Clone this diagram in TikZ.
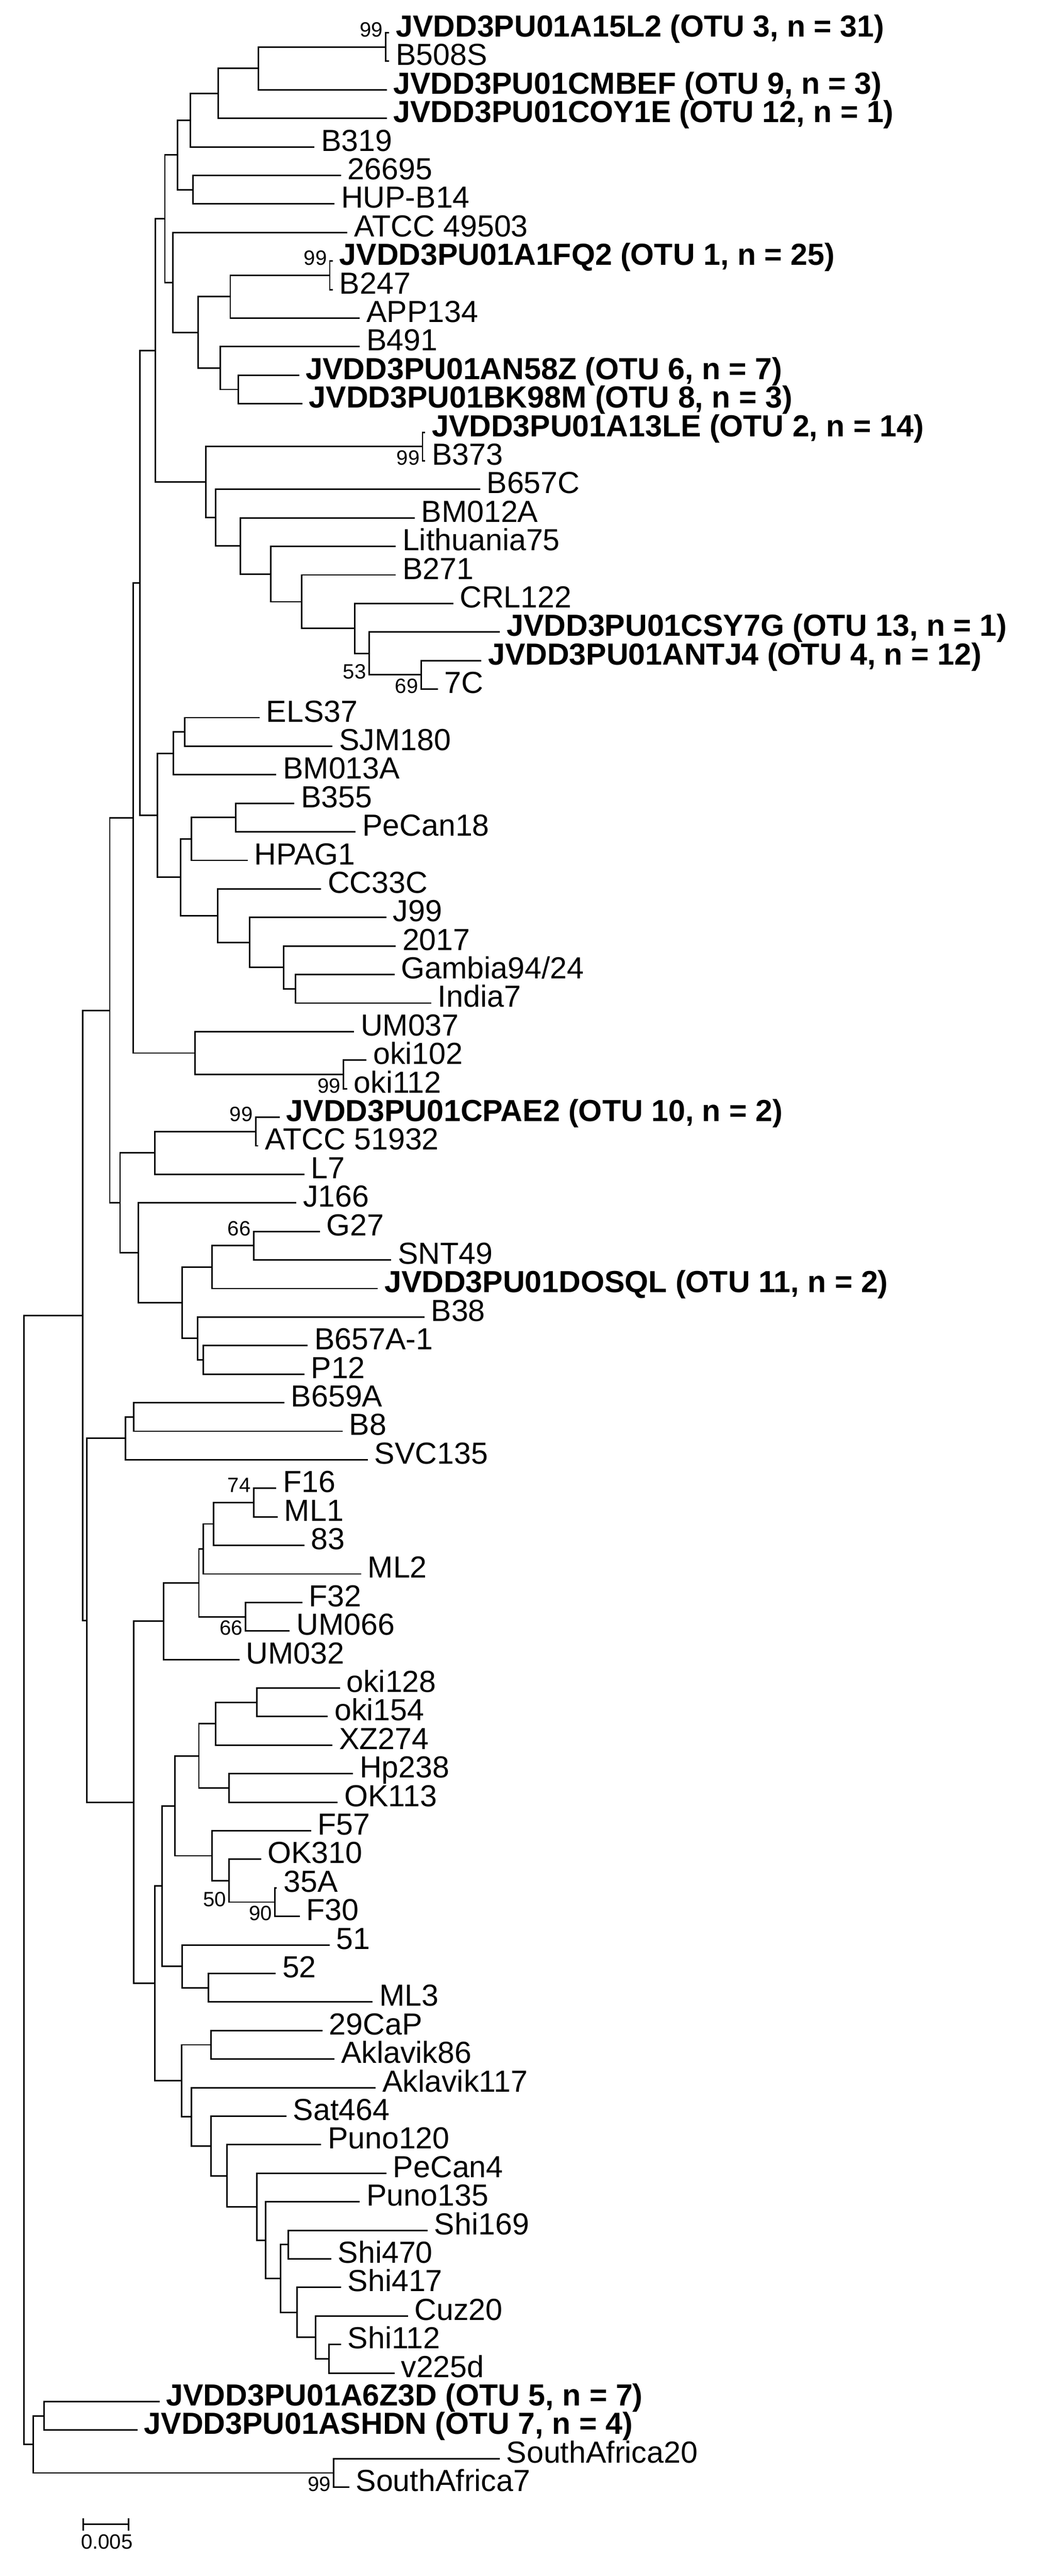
\documentclass[tikz,border=0pt]{standalone}
\usepackage{fontspec}
\setmainfont{Liberation Sans}
\usetikzlibrary{calc}
\tikzset{
  br/.style={line width=1.3pt,line join=miter,line cap=rect},
  lab/.style={inner xsep=0.22cm,inner ysep=0pt,text height=0.716em,text depth=0pt,font=\fontsize{26.5}{30}\selectfont},
  blab/.style={lab,font=\fontsize{26.5}{30}\selectfont\bfseries},
  bsv/.style={inner xsep=0.08cm,inner ysep=0pt,text height=0.716em,text depth=0pt,font=\fontsize{18}{20}\selectfont}
}
\newcommand{\lf}[4]{\coordinate (#1) at ({#2},{20+(#3-1)*17.45});\node[lab,anchor=west] (t#1) at (#1) {#4};}
\newcommand{\blf}[4]{\coordinate (#1) at ({#2},{20+(#3-1)*17.45});\node[blab,anchor=west] (t#1) at (#1) {#4};}
\newcommand{\nd}[4]{\path let \p1=($(#3)!.5!(#4)$) in coordinate (#1) at (#2*0.05cm,\y1);
  \draw[br] (#3) -- (#1 |- #3) -- (#1 |- #4) -- (#4);}
\newcommand{\bsl}[3]{\node[bsv,anchor=east] at (#1 |- #2) {#3};}
\begin{document}
\begin{tikzpicture}[x=0.05cm,y=-0.05cm]
\useasboundingbox (0,0) rectangle (640,1575);
\blf{a1}{237.5}{1}{JVDD3PU01A15L2 (OTU 3, n = 31)}
\lf{a2}{237.5}{2}{B508S}
\blf{a3}{236}{3}{JVDD3PU01CMBEF (OTU 9, n = 3)}
\blf{a4}{236}{4}{JVDD3PU01COY1E (OTU 12, n = 1)}
\lf{a5}{191.8}{5}{B319}
\lf{a6}{208}{6}{26695}
\lf{a7}{204}{7}{HUP-B14}
\lf{a8}{212}{8}{ATCC 49503}
\blf{a9}{203}{9}{JVDD3PU01A1FQ2 (OTU 1, n = 25)}
\lf{a10}{203}{10}{B247}
\lf{a11}{219.5}{11}{APP134}
\lf{a12}{219.5}{12}{B491}
\blf{a13}{182.4}{13}{JVDD3PU01AN58Z (OTU 6, n = 7)}
\blf{a14}{184.4}{14}{JVDD3PU01BK98M (OTU 8, n = 3)}
\blf{a15}{259.5}{15}{JVDD3PU01A13LE (OTU 2, n = 14)}
\lf{a16}{259.5}{16}{B373}
\lf{a17}{293}{17}{B657C}
\lf{a18}{253}{18}{BM012A}
\lf{a19}{241.5}{19}{Lithuania75}
\lf{a20}{241.5}{20}{B271}
\lf{a21}{276.6}{21}{CRL122}
\blf{a22}{305.2}{22}{JVDD3PU01CSY7G (OTU 13, n = 1)}
\blf{a23}{293.8}{23}{JVDD3PU01ANTJ4 (OTU 4, n = 12)}
\lf{a24}{267.2}{24}{7C}
\lf{a25}{158.3}{25}{ELS37}
\lf{a26}{202.8}{26}{SJM180}
\lf{a27}{168.5}{27}{BM013A}
\lf{a28}{179.5}{28}{B355}
\lf{a29}{217}{29}{PeCan18}
\lf{a30}{151}{30}{HPAG1}
\lf{a31}{195.8}{31}{CC33C}
\lf{a32}{235.8}{32}{J99}
\lf{a33}{241.5}{33}{2017}
\lf{a34}{240.7}{34}{Gambia94/24}
\lf{a35}{263.2}{35}{India7}
\lf{a36}{216}{36}{UM037}
\lf{a37}{223.6}{37}{oki102}
\lf{a38}{211.8}{38}{oki112}
\blf{a39}{170.5}{39}{JVDD3PU01CPAE2 (OTU 10, n = 2)}
\lf{a40}{157.5}{40}{ATCC 51932}
\lf{a41}{185.6}{41}{L7}
\lf{a42}{180.7}{42}{J166}
\lf{a43}{195}{43}{G27}
\lf{a44}{238.7}{44}{SNT49}
\blf{a45}{230.5}{45}{JVDD3PU01DOSQL (OTU 11, n = 2)}
\lf{a46}{259}{46}{B38}
\lf{a47}{187.7}{47}{B657A-1}
\lf{a48}{185.6}{48}{P12}
\lf{a49}{173.4}{49}{B659A}
\lf{a50}{208.9}{50}{B8}
\lf{a51}{224.4}{51}{SVC135}
\lf{a52}{168.5}{52}{F16}
\lf{a53}{169.3}{53}{ML1}
\lf{a54}{185.6}{54}{83}
\lf{a55}{220.3}{55}{ML2}
\lf{a56}{184.4}{56}{F32}
\lf{a57}{176.7}{57}{UM066}
\lf{a58}{146}{58}{UM032}
\lf{a59}{207.3}{59}{oki128}
\lf{a60}{200}{60}{oki154}
\lf{a61}{202.8}{61}{XZ274}
\lf{a62}{215.4}{62}{Hp238}
\lf{a63}{206}{63}{OK113}
\lf{a64}{189.7}{64}{F57}
\lf{a65}{159.1}{65}{OK310}
\lf{a66}{168.8}{66}{35A}
\lf{a67}{182.8}{67}{F30}
\lf{a68}{201.1}{68}{51}
\lf{a69}{168.1}{69}{52}
\lf{a70}{227.3}{70}{ML3}
\lf{a71}{196.7}{71}{29CaP}
\lf{a72}{204}{72}{Aklavik86}
\lf{a73}{229.3}{73}{Aklavik117}
\lf{a74}{174.6}{74}{Sat464}
\lf{a75}{195.8}{75}{Puno120}
\lf{a76}{235.8}{76}{PeCan4}
\lf{a77}{219.5}{77}{Puno135}
\lf{a78}{261}{78}{Shi169}
\lf{a79}{202}{79}{Shi470}
\lf{a80}{208}{80}{Shi417}
\lf{a81}{248.9}{81}{Cuz20}
\lf{a82}{208}{82}{Shi112}
\lf{a83}{240.7}{83}{v225d}
\blf{a84}{97.1}{84}{JVDD3PU01A6Z3D (OTU 5, n = 7)}
\blf{a85}{83.6}{85}{JVDD3PU01ASHDN (OTU 7, n = 4)}
\lf{a86}{305}{86}{SouthAfrica20}
\lf{a87}{213}{87}{SouthAfrica7}
% internal nodes
\nd{n1}{235.8}{a1}{a2}
\nd{n2}{158}{n1}{a3}
\nd{n3}{133.4}{n2}{a4}
\nd{n4}{116.3}{n3}{a5}
\nd{n5}{117.9}{a6}{a7}
\nd{n6}{108.5}{n4}{n5}
\nd{n7}{201.6}{a9}{a10}
\nd{n8}{140.8}{n7}{a11}
\nd{n9}{145.7}{a13}{a14}
\nd{n10}{134.6}{a12}{n9}
\nd{n11}{121.2}{n8}{n10}
\nd{n12}{105.7}{a8}{n11}
\nd{n13}{100.8}{n6}{n12}
\nd{n14}{258.3}{a15}{a16}
\nd{n15}{257.4}{a23}{a24}
\nd{n16}{225.6}{a22}{n15}
\nd{n17}{217}{a21}{n16}
\nd{n18}{184.4}{a20}{n17}
\nd{n19}{165.6}{a19}{n18}
\nd{n20}{146.9}{a18}{n19}
\nd{n21}{131.8}{a17}{n20}
\nd{n22}{125.7}{n14}{n21}
\nd{n23}{95}{n13}{n22}
\nd{n24}{112.8}{a25}{a26}
\nd{n25}{106.1}{n24}{a27}
\nd{n26}{144}{a28}{a29}
\nd{n27}{117}{n26}{a30}
\nd{n28}{180.7}{a34}{a35}
\nd{n29}{173.4}{a33}{n28}
\nd{n30}{152.5}{a32}{n29}
\nd{n31}{133}{a31}{n30}
\nd{n32}{110.5}{n27}{n31}
\nd{n33}{96.3}{n25}{n32}
\nd{n34}{85.5}{n23}{n33}
\nd{n35}{210}{a37}{a38}
\nd{n36}{119.3}{a36}{n35}
\nd{n37}{81.4}{n34}{n36}
\nd{n38}{156.3}{a39}{a40}
\nd{n39}{94.7}{n38}{a41}
\nd{n40}{155}{a43}{a44}
\nd{n41}{129.7}{n40}{a45}
\nd{n42}{124.4}{a47}{a48}
\nd{n43}{120.8}{a46}{n42}
\nd{n44}{111.4}{n41}{n43}
\nd{n45}{84.5}{a42}{n44}
\nd{n46}{73.4}{n39}{n45}
\nd{n47}{67.1}{n37}{n46}
\nd{n48}{81.6}{a49}{a50}
\nd{n49}{76.7}{n48}{a51}
\nd{n50}{155}{a52}{a53}
\nd{n51}{130.6}{n50}{a54}
\nd{n52}{124.4}{n51}{a55}
\nd{n53}{150.1}{a56}{a57}
\nd{n54}{121.6}{n52}{n53}
\nd{n55}{100}{n54}{a58}
\nd{n56}{157}{a59}{a60}
\nd{n57}{131.8}{n56}{a61}
\nd{n58}{140}{a62}{a63}
\nd{n59}{121.6}{n57}{n58}
\nd{n60}{168.1}{a66}{a67}
\nd{n61}{140}{a65}{n60}
\nd{n62}{129.7}{a64}{n61}
\nd{n63}{106.9}{n59}{n62}
\nd{n64}{127.3}{a69}{a70}
\nd{n65}{111.4}{a68}{n64}
\nd{n66}{99.1}{n63}{n65}
\nd{n67}{128.9}{a71}{a72}
\nd{n68}{201.1}{a82}{a83}
\nd{n69}{193}{a81}{n68}
\nd{n70}{181.6}{a80}{n69}
\nd{n71}{176.3}{a78}{a79}
\nd{n72}{171.4}{n71}{n70}
\nd{n73}{162.4}{a77}{n72}
\nd{n74}{157}{a76}{n73}
\nd{n75}{138.7}{a75}{n74}
\nd{n76}{128.9}{a74}{n75}
\nd{n77}{117.1}{a73}{n76}
\nd{n78}{111}{n67}{n77}
\nd{n79}{94.7}{n66}{n78}
\nd{n80}{81.6}{n55}{n79}
\nd{n81}{53}{n49}{n80}
\nd{n82}{50.6}{n47}{n81}
\nd{n83}{26.9}{a84}{a85}
\nd{n84}{204}{a86}{a87}
\nd{n85}{20.4}{n83}{n84}
\nd{root}{14.7}{n82}{n85}
% bootstrap values
\bsl{n1}{a1}{99}
\bsl{n7}{a9}{99}
\bsl{n14}{a16}{99}
\bsl{n16}{n15}{53}
\bsl{n15}{a24}{69}
\bsl{n35}{a38}{99}
\bsl{n38}{a39}{99}
\bsl{n40}{a43}{66}
\bsl{n50}{a52}{74}
\bsl{n53}{a57}{66}
\bsl{n61}{n60}{50}
\bsl{n60}{a67}{90}
\bsl{n84}{a87}{99}
% scale bar
\coordinate (s1) at (51,1543.4);
\coordinate (s2) at (78.7,1543.4);
\draw[br] (s1) -- (s2) ([yshift=0.17cm]s1) -- ([yshift=-0.17cm]s1) ([yshift=0.17cm]s2) -- ([yshift=-0.17cm]s2);
\node[bsv,anchor=center] (sl) at (65.3,1556) {0.005};
\end{tikzpicture}
\end{document}
